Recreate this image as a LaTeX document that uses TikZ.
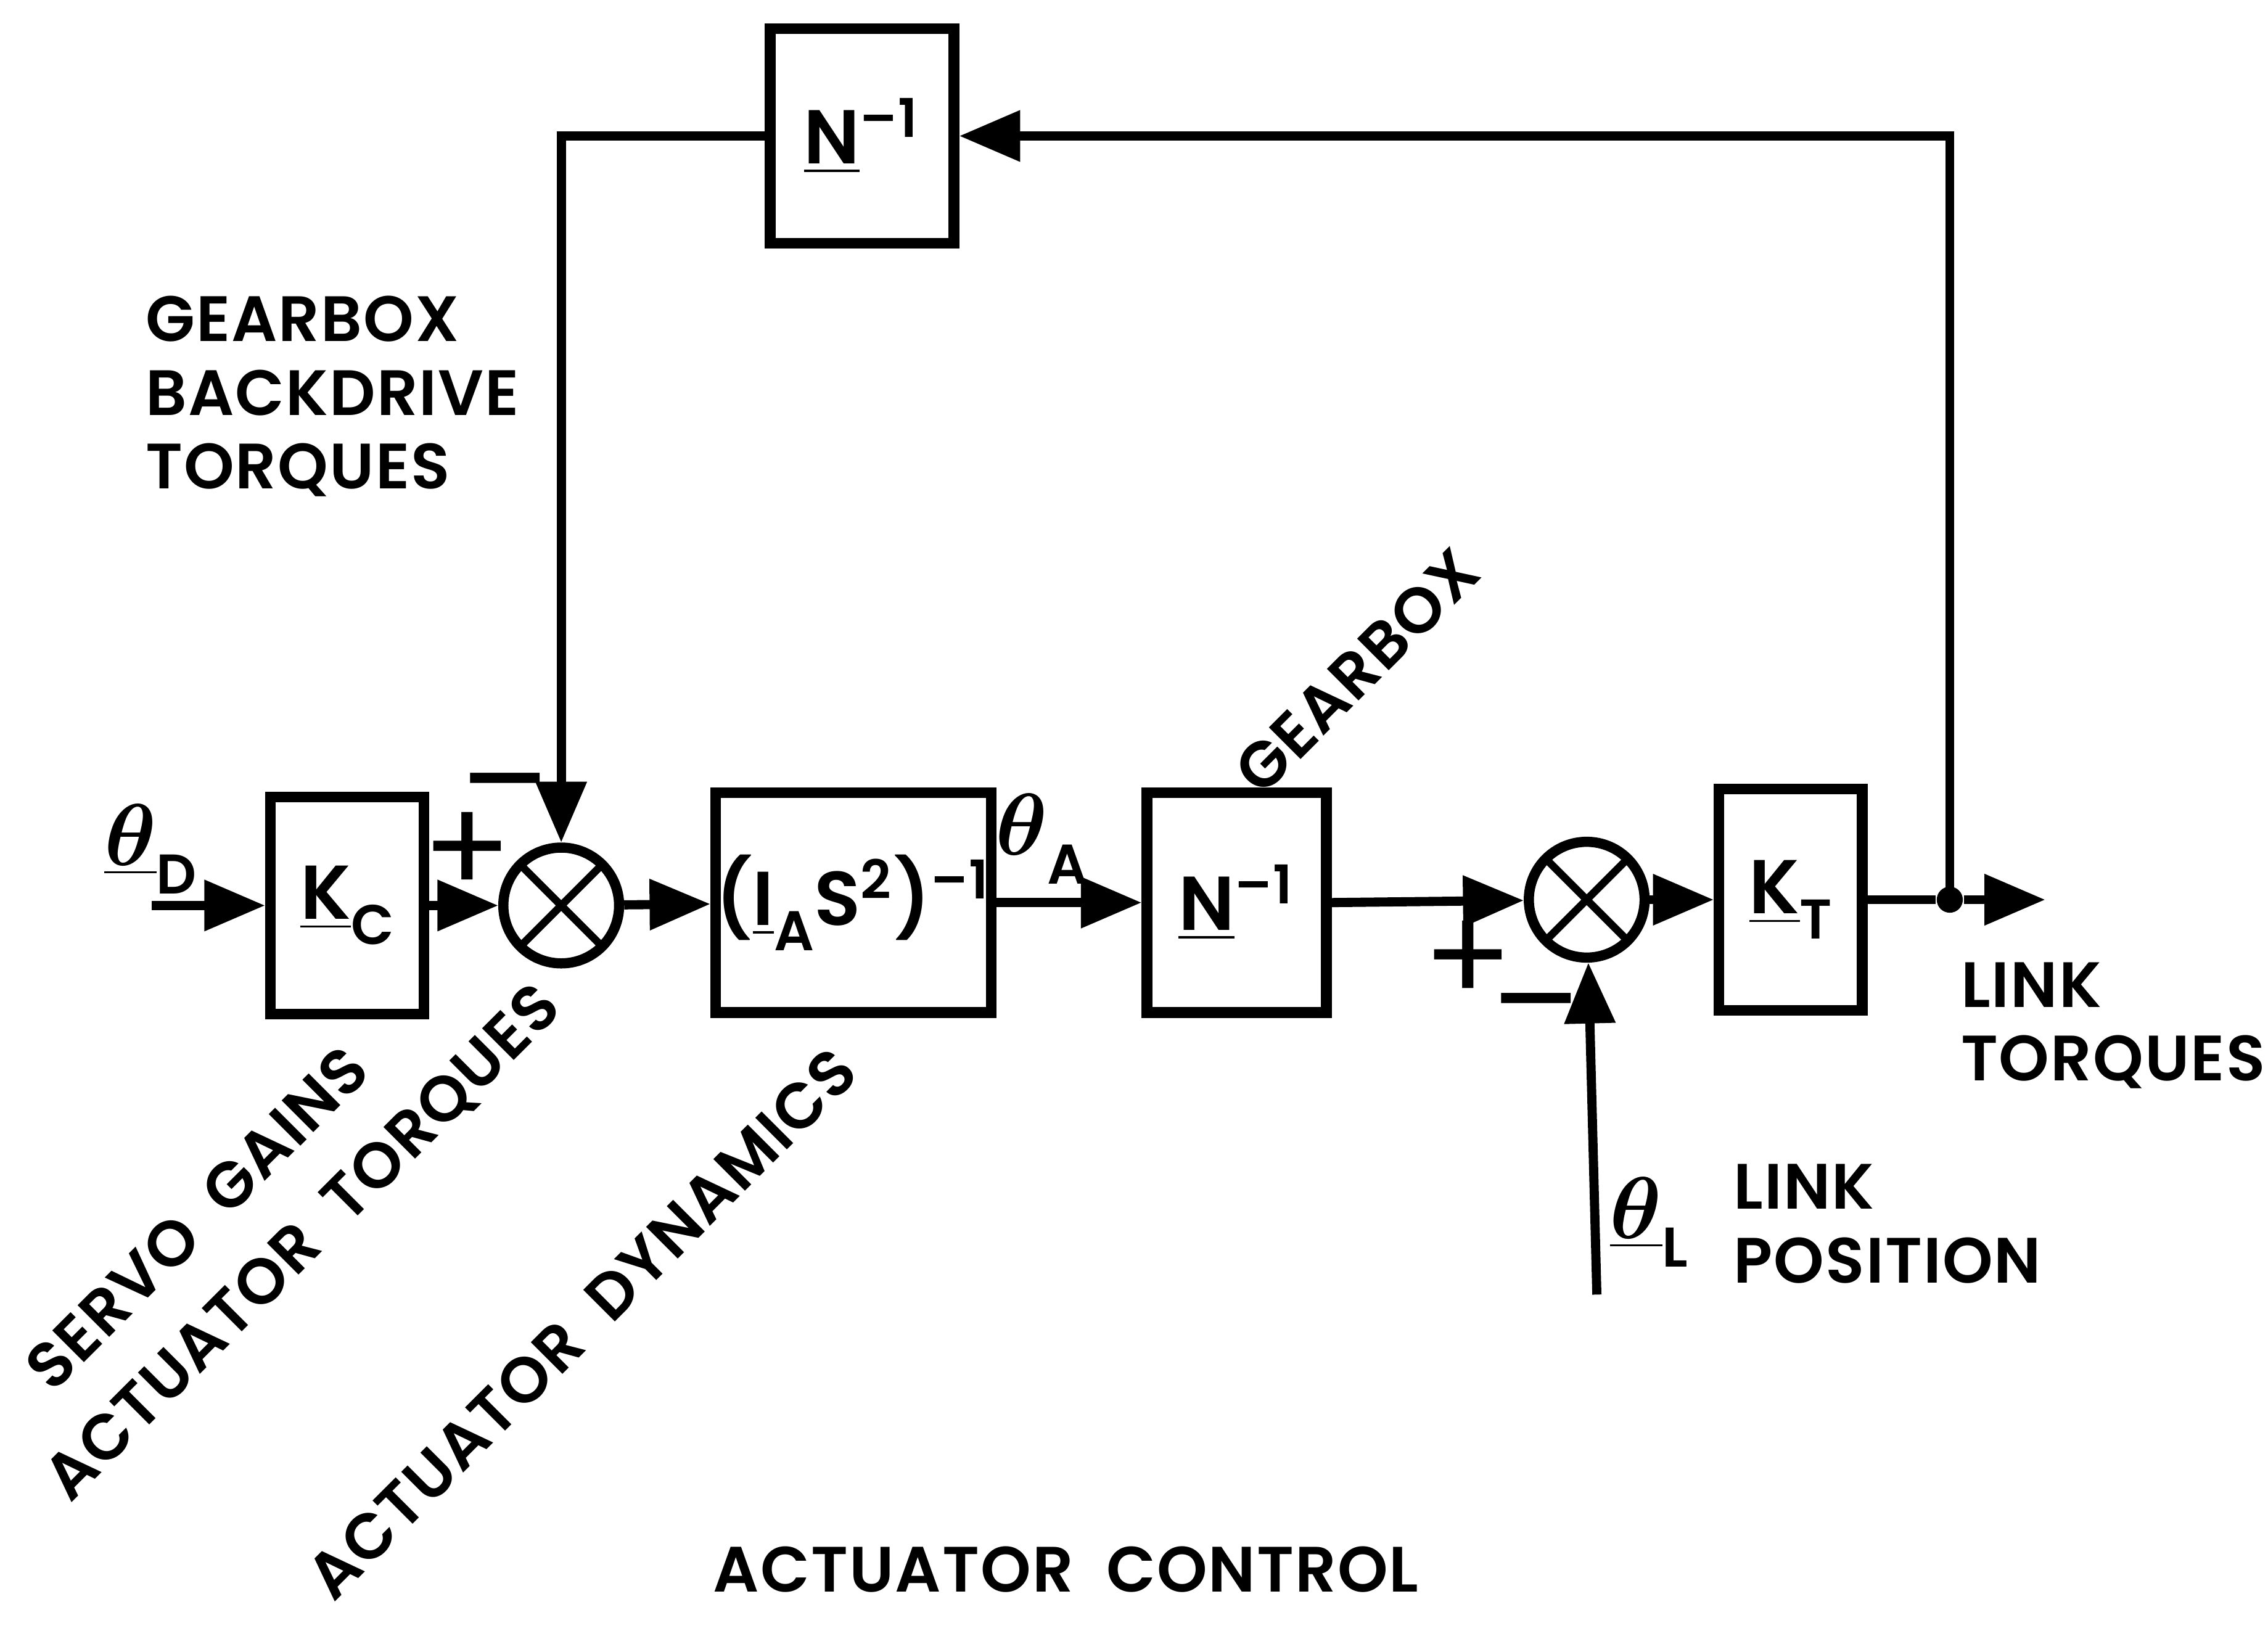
\documentclass[tikz,border=0pt]{standalone}
\usepackage{fontspec}
\setmainfont{Poppins}[BoldFont={Poppins SemiBold}, BoldFeatures={LetterSpace=2}]
\usetikzlibrary{arrows.meta, positioning}
\newcommand{\lbl}{\fontsize{12.6}{14.5}\selectfont\bfseries}
\newcommand{\blkfont}{\fontsize{15}{18}\selectfont\bfseries}
\newcommand{\mtx}[1]{\underline{#1}}
\newcommand{\lowsub}[1]{\raisebox{-0.6ex}{\fontsize{11}{11}\selectfont #1}}

\begin{document}
\begin{tikzpicture}[x=0.01cm, y=-0.01cm]
  \tikzset{
    blk/.style={draw, line width=2.1pt, minimum width=1.06cm, minimum height=1.5cm,
      inner sep=0pt, font=\blkfont},
    sumj/.style={draw, circle, line width=2pt, minimum size=0.8cm, inner sep=0pt,
      path picture={\draw[line width=1.5pt]
        (path picture bounding box.north west) -- (path picture bounding box.south east)
        (path picture bounding box.north east) -- (path picture bounding box.south west);}},
    sig/.style={line width=1.8pt, -{Triangle[length=0.42cm, width=0.34cm]}},
    wire/.style={line width=1.8pt},
    txt/.style={font=\lbl, align=left, inner sep=0pt},
    sgn/.style={font=\fontsize{26}{26}\selectfont\mdseries, inner sep=0pt},
    greek/.style={font=\fontsize{17}{17}\selectfont\bfseries\boldmath, inner sep=0pt}
  }
  \useasboundingbox (0,0) rectangle (1568,1142);

  % blocks
  \node[blk] (kc) at (240,626) {\mtx{K}\lowsub{C}};
  \node[blk, minimum width=1.55cm, minimum height=1.52cm] (ia) at (590,624)
    {(\mtx{I}\lowsub{A}S\textsuperscript{2})\textsuperscript{--1}};
  \node[blk, minimum width=1.24cm, minimum height=1.52cm] (ng) at (855,624)
    {\mtx{N}\textsuperscript{--1}};
  \node[blk, minimum width=0.99cm, minimum height=1.53cm] (kt) at (1238,622)
    {\mtx{K}\lowsub{T}};
  \node[blk, minimum width=1.27cm, minimum height=1.48cm] (nb) at (596,94)
    {\mtx{N}\textsuperscript{--1}};

  % summing junctions and branch point
  \node[sumj] (s1) at (388,626) {};
  \node[sumj] (s2) at (1097,622) {};
  \node[circle, fill, inner sep=0pt, minimum size=0.18cm] (dot) at (1348,622) {};
  \coordinate (thd) at (105,626);
  \coordinate (ltq) at (1414,622);
  \coordinate (thl) at (1104,895);

  % signal flow
  \draw[sig] (thd) -- (kc);
  \draw[sig] (kc) -- (s1);
  \draw[sig] (s1) -- (ia);
  \draw[sig] (ia) -- (ng);
  \draw[sig] (ng.east) -- (s2);
  \draw[sig] (s2) -- (kt);
  \draw[wire] (kt) -- (dot);
  \draw[sig] (dot) -- (ltq);
  \draw[sig] (thl) -- (s2);
  \draw[sig] (dot.center) |- (nb);
  \draw[sig] (nb) -| (s1);

  % signs
  \node[sgn] (p1) at (323,590) {+};
  \node[sgn] (m1) at (349,553) {--};
  \node[sgn] (p2) at (1015,665) {+};
  \node[sgn] (m2) at (1062,705) {--};

  % labels
  \node[greek] (lthd) at (104,587) {$\underline{\theta}$\lowsub{D}};
  \node[greek] (ltha) at (720,580) {$\theta$\lowsub{A}};
  \node[greek] (lthl) at (1140,845) {$\underline{\theta}$\lowsub{L}};
  \node[txt, anchor=west] (lpos) at (1198,846) {LINK\\POSITION};
  \node[txt, anchor=west] (ltorq) at (1355,709) {LINK\\TORQUES};
  \node[txt, anchor=west] (lback) at (100,274) {GEARBOX\\BACKDRIVE\\TORQUES};
  \node[txt, rotate=45] (lgear) at (938,464) {GEARBOX};
  \node[txt, rotate=45] (lserv) at (136,842) {SERVO\ \ GAINS};
  \node[txt, rotate=45] (latq) at (210,860) {ACTUATOR\ \ TORQUES};
  \node[txt, rotate=45] (ldyn) at (402,915) {ACTUATOR\ \ DYNAMICS};
  \node[txt] (ltitle) at (737,1085) {ACTUATOR\ \ CONTROL};
\end{tikzpicture}
\end{document}
